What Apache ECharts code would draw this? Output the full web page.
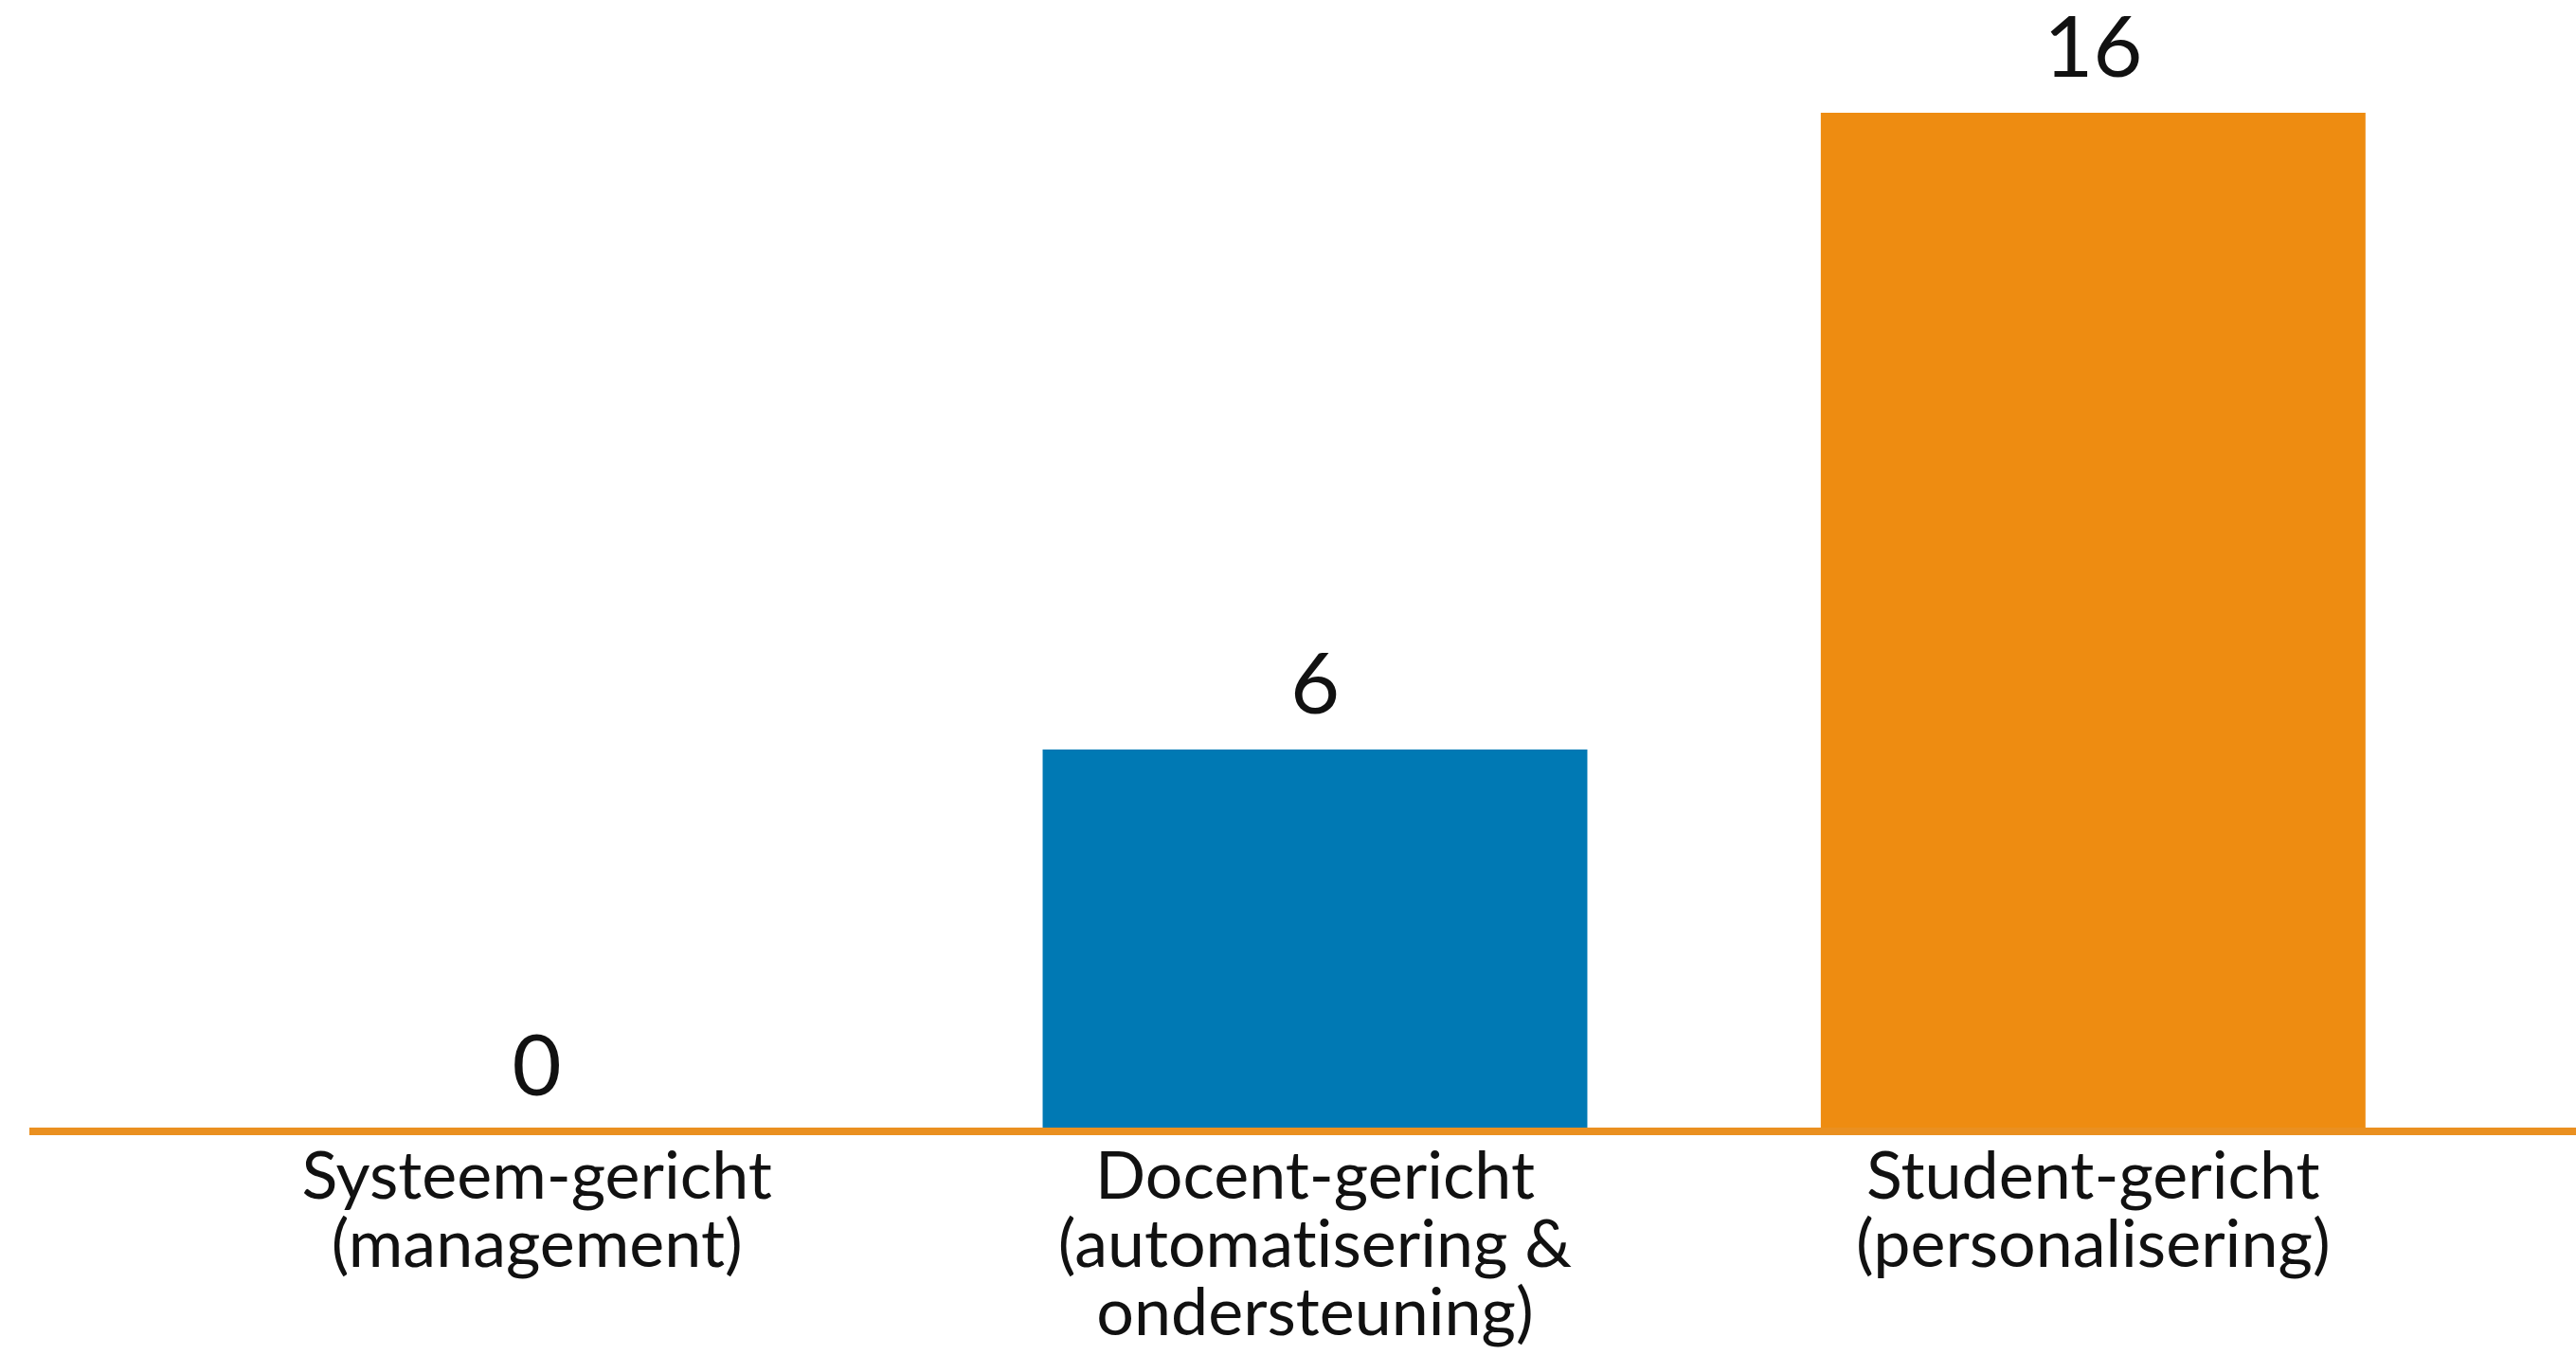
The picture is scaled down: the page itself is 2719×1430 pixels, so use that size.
<!DOCTYPE html>
<html>
<head>
<meta charset="utf-8">
<script src="https://cdn.jsdelivr.net/npm/echarts@6/dist/echarts.min.js"></script>
<style>
  html, body { margin: 0; padding: 0; background: #fff; }
  #chart { width: 2719px; height: 1430px; }
</style>
</head>
<body>
<div id="chart"></div>
<script>
const categories = [
  "Systeem-gericht\n(management)",
  "Docent-gericht\n(automatisering &\nondersteuning)",
  "Student-gericht\n(personalisering)"
];
const counts = [0, 6, 16];
const barColors = ["#0079B4", "#0079B4", "#EE8C11"];

const FONT = "Lato";
const axisOrange = "#EA9020";

const chart = echarts.init(document.getElementById("chart"));

const option = {
  backgroundColor: "#ffffff",
  animation: false,
  grid: { left: 156, right: 99, top: 119, bottom: 236 },
  xAxis: {
    type: "category",
    data: categories,
    axisLine: { show: false },
    axisTick: { show: false },
    axisLabel: {
      margin: 12,
      color: "#111",
      fontFamily: FONT,
      fontSize: 70,
      lineHeight: 72,
      interval: 0,
      // keep Lato from joining "ti" into a ligature
      formatter: (s) => s.replace(/ti/g, "t\u200Ci")
    }
  },
  yAxis: {
    type: "value",
    min: 0,
    max: 16,
    show: false,
    splitLine: { show: false }
  },
  series: [
    {
      type: "bar",
      barWidth: "70%",
      data: counts.map((v, i) => ({ value: v, itemStyle: { color: barColors[i] } })),
      label: {
        show: true,
        position: "top",
        distance: 22,
        color: "#111",
        fontFamily: FONT,
        fontSize: 90
      }
    }
  ]
};

chart.setOption(option);

// baseline runs wider than the plot area
const y0 = chart.convertToPixel({ yAxisIndex: 0 }, 0);
chart.setOption({
  graphic: [{
    type: "line",
    z: 10,
    shape: { x1: 31, y1: y0, x2: 2719, y2: y0 },
    style: { stroke: axisOrange, lineWidth: 8 }
  }]
});
</script>
</body>
</html>
